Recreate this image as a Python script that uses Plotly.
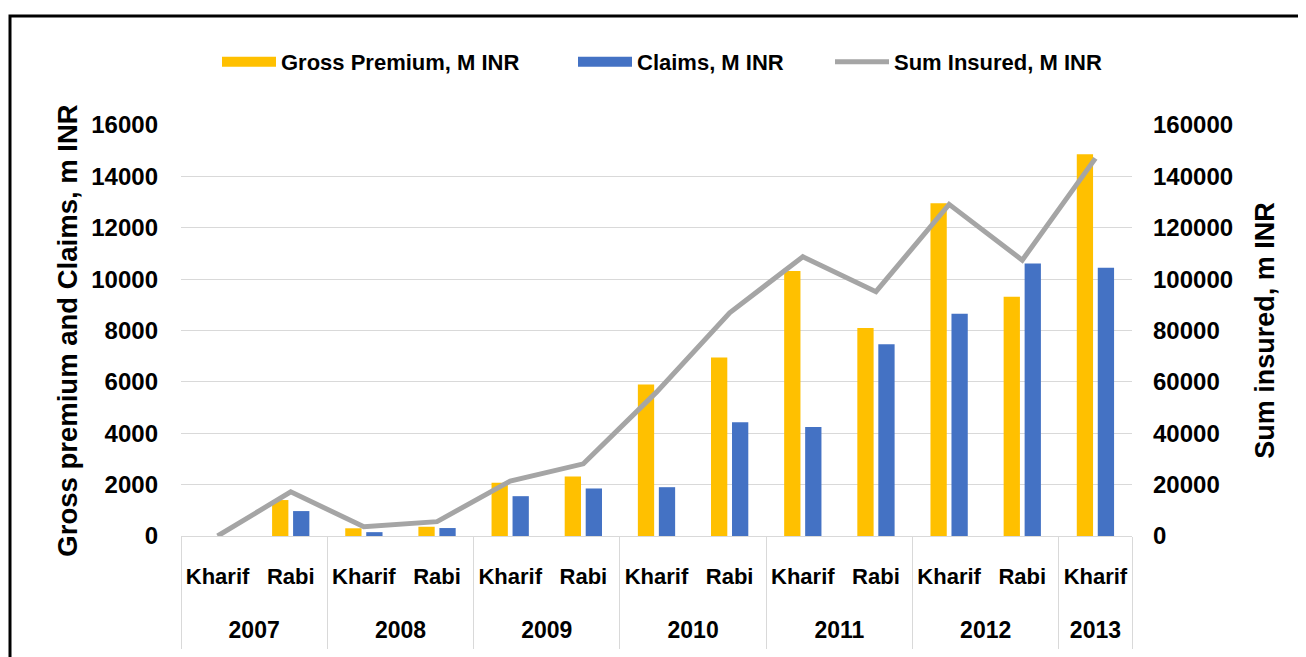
import plotly.graph_objects as go

years = ["2007", "2007", "2008", "2008", "2009", "2009", "2010", "2010",
         "2011", "2011", "2012", "2012", "2013"]
seasons = ["Kharif", "Rabi", "Kharif", "Rabi", "Kharif", "Rabi", "Kharif", "Rabi",
           "Kharif", "Rabi", "Kharif", "Rabi", "Kharif"]

gross_premium = [0, 1400, 300, 360, 2070, 2320, 5900, 6950, 10320, 8100, 12950, 9310, 14860]
claims = [0, 970, 150, 310, 1550, 1850, 1900, 4430, 4240, 7460, 8650, 10610, 10440]
sum_insured = [0, 17200, 3600, 5600, 21400, 28100, 56000, 86900, 108700, 95100, 129100, 107400, 147000]

left_ticks = [0, 2000, 4000, 6000, 8000, 10000, 12000, 14000, 16000]
right_ticks = [0, 20000, 40000, 60000, 80000, 100000, 120000, 140000, 160000]

FONT = "Liberation Sans"
YELLOW, BLUE, GREY = "#FFC000", "#4472C4", "#A5A5A5"

# category positions derived from the data
idx = list(range(len(seasons)))
year_labels = []
year_centers = []
boundaries = [-0.5]
for i, yv in enumerate(years):
    if not year_labels or year_labels[-1] != yv:
        if year_labels:
            boundaries.append(i - 0.5)
        year_labels.append(yv)
        members = [j for j, v in enumerate(years) if v == yv]
        year_centers.append(sum(members) / len(members))
boundaries.append(len(years) - 0.5)
xrange = [-0.5, len(years) - 0.5]

fig = go.Figure()
fig.add_trace(go.Bar(x=idx, y=gross_premium, name="Gross Premium, M INR", showlegend=False,
                     legendgroup="gp", marker=dict(color=YELLOW, line=dict(width=0))))
fig.add_trace(go.Bar(x=idx, y=claims, name="Claims, M INR", showlegend=False,
                     legendgroup="cl", marker=dict(color=BLUE, line=dict(width=0))))
# legend keys drawn as wide blocks (as in the original legend)
fig.add_trace(go.Scatter(x=[None], y=[None], name="Gross Premium, M INR", legendgroup="gp",
                         legend="legend", mode="lines", line=dict(color=YELLOW, width=15),
                         hoverinfo="skip"))
fig.add_trace(go.Scatter(x=[None], y=[None], name="Claims, M INR", legendgroup="cl",
                         legend="legend2", mode="lines", line=dict(color=BLUE, width=15),
                         hoverinfo="skip"))
fig.add_trace(go.Scatter(x=idx, y=sum_insured, name="Sum Insured, M INR", yaxis="y2",
                         legend="legend3", mode="lines", line=dict(color=GREY, width=5)))
# empty helper traces so the year-label axis and the divider axis are drawn
fig.add_trace(go.Scatter(x=year_centers, y=[None] * len(year_centers), xaxis="x2",
                         mode="markers", showlegend=False, hoverinfo="skip"))
fig.add_trace(go.Scatter(x=boundaries, y=[None] * len(boundaries), xaxis="x3",
                         mode="markers", showlegend=False, hoverinfo="skip"))

# page body has an 8px margin: work in screen pixels and shift
OFF = 8
W, H = 1306, 657
left, right, top, bottom = 181 - OFF, 1132 - OFF, 125 - OFF, 536 - OFF
ml, mr, mt, mb = left, W - right, top, H - bottom
pw, ph = right - left, bottom - top

def px_x(p):
    return (p - OFF - left) / pw

def px_y(p):
    return (bottom - (p - OFF)) / ph

def legend_at(px):
    return dict(orientation="h", x=px_x(px), xanchor="left", y=px_y(62), yanchor="middle",
                font=dict(size=22, family=FONT, weight="bold"), bgcolor="rgba(0,0,0,0)",
                itemwidth=54)

grid = "#D9D9D9"
fig.update_layout(
    width=W, height=H,
    margin=dict(l=ml, r=mr, t=mt, b=mb, pad=0, autoexpand=False),
    paper_bgcolor="white", plot_bgcolor="white",
    font=dict(family=FONT, size=22, color="#000000", weight="bold"),
    barmode="group", bargap=0.426, bargroupgap=0.224,
    showlegend=True,
    legend=legend_at(217), legend2=legend_at(573), legend3=legend_at(830),
    xaxis=dict(range=xrange, tickvals=idx, ticktext=seasons, showgrid=False, zeroline=False,
               showline=True, linecolor=grid, linewidth=1, ticks="", ticklabelstandoff=21,
               tickfont=dict(size=22, family=FONT, weight="bold"), automargin=False),
    xaxis2=dict(range=xrange, overlaying="x", anchor="y", side="bottom", visible=True,
                tickvals=year_centers, ticktext=year_labels, showgrid=False, zeroline=False,
                showline=False, ticks="", ticklabelstandoff=78, showticklabels=True,
                tickfont=dict(size=23, family=FONT, weight="bold"), automargin=False),
    xaxis3=dict(range=xrange, overlaying="x", anchor="y", side="bottom", visible=True,
                tickvals=boundaries, showticklabels=False, showgrid=False, zeroline=False,
                showline=False, ticks="outside", ticklen=112, tickwidth=1, tickcolor=grid,
                automargin=False),
    yaxis=dict(range=[0, 16000], tickvals=left_ticks, tickformat="d", showgrid=True,
               gridcolor=grid, gridwidth=1, zeroline=False, showline=False,
               ticks="", ticklabelstandoff=22, automargin=False,
               tickfont=dict(size=24, family=FONT, weight="bold"),
               title=dict(text="Gross premium and Claims, m INR", standoff=5,
                          font=dict(size=27.5, family=FONT, weight="bold"))),
    yaxis2=dict(range=[0, 160000], tickvals=right_ticks, tickformat="d", overlaying="y",
                side="right", showgrid=False, zeroline=False, showline=False, ticks="",
                ticklabelstandoff=20, automargin=False,
                tickfont=dict(size=24, family=FONT, weight="bold"),
                title=dict(text="Sum insured, m INR", standoff=23,
                           font=dict(size=27, family=FONT, weight="bold"))),
    shapes=[dict(type="rect", xref="paper", yref="paper",
                 x0=px_x(10), x1=px_x(1320), y0=px_y(720), y1=px_y(16),
                 line=dict(color="black", width=3), fillcolor="rgba(0,0,0,0)", layer="below")],
)

fig.write_html("out.html")
